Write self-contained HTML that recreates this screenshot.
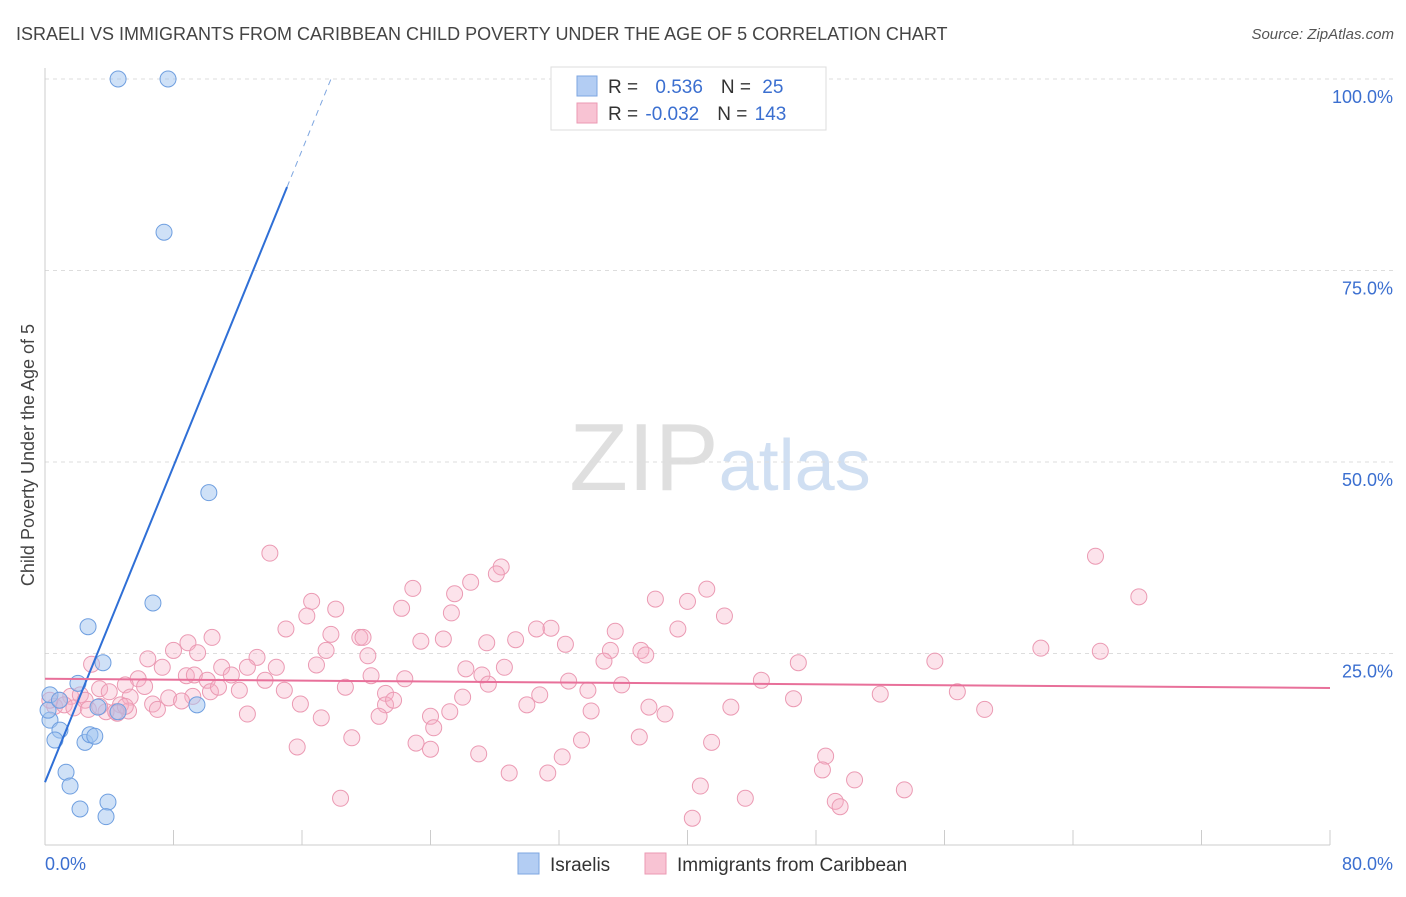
<!DOCTYPE html>
<html><head><meta charset="utf-8"><style>
body{margin:0;background:#fff;font-family:"Liberation Sans",sans-serif;}
svg text{font-family:"Liberation Sans",sans-serif;}
</style></head><body>
<svg id="chart" width="1406" height="892" xmlns="http://www.w3.org/2000/svg">
<text x="16" y="40" font-size="18" fill="#444">ISRAELI VS IMMIGRANTS FROM CARIBBEAN CHILD POVERTY UNDER THE AGE OF 5 CORRELATION CHART</text>
<text x="1394" y="39" font-size="15" fill="#555" text-anchor="end" font-style="italic">Source: ZipAtlas.com</text>
<text x="720" y="490" font-size="96" text-anchor="middle" font-family="Liberation Serif" fill="#d8d8d8" opacity="0.8">ZIP<tspan fill="#c5d8f0" font-family="Liberation Sans" font-size="72">atlas</tspan></text>
<text transform="translate(34,455) rotate(-90)" font-size="18" fill="#444" text-anchor="middle">Child Poverty Under the Age of 5</text>
<g id="grid"></g><g id="ticks"></g><g id="pts"></g><g id="lines"></g>
<g>
<rect x="551" y="67" width="275" height="63" fill="#fff" stroke="#ddd"/>
<rect x="577" y="76" width="20" height="20" fill="#b3cdf3" stroke="#7ea6e0"/>
<rect x="577" y="103" width="20" height="20" fill="#f8c3d3" stroke="#eb9ab3"/>
<text x="608" y="93" font-size="19" fill="#333">R = <tspan fill="#3b6fd0" dx="12">0.536</tspan><tspan fill="#333" dx="18">N = </tspan><tspan fill="#3b6fd0" dx="6">25</tspan></text>
<text x="608" y="120" font-size="19" fill="#333">R = <tspan fill="#3b6fd0" dx="2">-0.032</tspan><tspan fill="#333" dx="18">N = </tspan><tspan fill="#3b6fd0" dx="2">143</tspan></text>
</g>
<g>
<rect x="518" y="853" width="21" height="21" fill="#b3cdf3" stroke="#7ea6e0"/>
<text x="550" y="871" font-size="19" fill="#333">Israelis</text>
<rect x="645" y="853" width="21" height="21" fill="#f8c3d3" stroke="#eb9ab3"/>
<text x="677" y="871" font-size="19" fill="#333">Immigrants from Caribbean</text>
</g>
</svg>
<script>
const xTicks=[0,10,20,30,40,50,60,70,80];
const yTicks=[25,50,75,100];
const blueX=[4.55,7.66,7.41,10.2,6.72,2.68,3.61,2.05,0.31,3.3,4.55,9.46,0.31,0.93,0.62,2.49,2.8,3.1,1.31,1.56,3.92,2.18,3.8,0.19,0.9];
const blueY=[100,100,80.0,46.0,31.6,28.5,23.8,21.1,19.6,18.0,17.4,18.3,16.3,15.0,13.7,13.4,14.4,14.2,9.5,7.7,5.6,4.7,3.7,17.6,18.9];
const pinkX=[14.0,65.4,28.4,28.1,41.2,22.9,26.5,68.1,38.0,16.6,25.5,40.0,22.2,18.1,25.3,16.3,42.3,15.0,35.5,39.4,30.6,31.5,10.4,17.8,19.6,19.8,23.4,24.8,27.5,29.3,32.4,8.9,62.0,65.7,17.5,37.1,35.2,37.4,8.0,6.4,9.5,13.2,20.1,26.2,16.9,28.6,34.8,55.4,46.9,2.9,7.3,11.0,12.6,14.4,11.6,8.8,5.8,9.3,10.1,20.3,22.4,13.7,27.2,27.6,32.6,35.9,44.6,5.0,6.2,10.3,12.1,14.9,18.7,10.8,3.4,21.2,4.0,5.3,7.7,9.2,26.0,33.8,30.8,52.0,56.8,1.6,2.2,15.9,21.2,21.7,4.7,6.7,7.0,5.2,4.5,8.5,46.6,30.0,34.0,58.5,37.6,42.7,12.6,17.2,20.8,24.0,25.2,38.6,24.2,33.4,37.0,41.5,15.7,23.1,24.0,19.1,27.0,32.2,48.6,48.4,28.9,31.3,50.4,40.8,18.4,43.6,49.2,49.5,53.5,40.3,0.9,0.6,1.2,0.3,2.5,1.8,2.7,3.8,4.4,3.4,5.0];
const pinkY=[38.1,37.7,36.3,35.4,33.4,33.5,34.3,32.4,32.1,31.8,32.8,31.8,30.9,30.8,30.3,29.9,29.9,28.2,27.9,28.2,28.2,28.3,27.1,27.5,27.1,27.1,26.6,26.9,26.4,26.8,26.2,26.4,25.7,25.3,25.4,25.4,25.4,24.8,25.4,24.3,25.1,24.5,24.7,23.0,23.5,23.2,24.0,24.0,23.8,23.6,23.2,23.2,23.2,23.2,22.2,22.1,21.7,22.2,21.5,22.1,21.7,21.5,22.2,21.0,21.4,20.9,21.5,20.9,20.7,20.0,20.2,20.2,20.6,20.6,20.4,19.8,20.0,19.3,19.2,19.4,19.3,20.2,19.6,19.7,20.0,19.4,19.6,18.4,18.3,18.9,18.3,18.4,17.7,17.5,17.2,18.8,19.1,18.3,17.5,17.7,18.0,18.0,17.1,16.6,16.8,16.8,17.4,17.1,15.3,13.7,14.1,13.4,12.8,13.3,12.5,14.0,11.9,11.5,11.6,9.8,9.4,9.4,8.5,7.7,6.1,6.1,5.7,5.0,7.2,3.5,18.9,18.1,18.3,18.9,18.9,17.9,17.7,17.4,17.4,18.1,18.1];
const blueFit=[8.2,85.9];   // y at x=0 and x=15.07 (solid end)
const pinkFit=[21.7,20.5];  // y at x=0 and x=80
const NS='http://www.w3.org/2000/svg';
const X=v=>45+v*(1285/80);
const Y=v=>845-v*7.66;
function mk(tag,attrs,parent){const e=document.createElementNS(NS,tag);for(const k in attrs)e.setAttribute(k,attrs[k]);document.getElementById(parent).appendChild(e);return e;}
const ax=mk('line',{x1:45,y1:845,x2:1330,y2:845,stroke:'#ccc'},'ticks');


const ay=mk('line',{x1:45,y1:68,x2:45,y2:845,stroke:'#ccc'},'ticks');


yTicks.forEach(t=>{
 const g=mk('line',{x1:45,y1:Y(t),x2:1394,y2:Y(t),stroke:'#ddd','stroke-dasharray':'4,4'},'grid');
 
 
 const l=mk('text',{x:1393,y:Y(t)+24,'font-size':18,fill:'#3b6fd0','text-anchor':'end'},'grid');
 l.textContent=t.toFixed(1)+'%';
 
 
});
for(let i=0;i<=10;i++){const v=i*8;
 const t=mk('line',{x1:X(v),y1:830,x2:X(v),y2:845,stroke:'#ccc'},'ticks');
 
 }
[[0,'start',45],[80,'end',1393]].forEach(([v,a,px])=>{
 const l=mk('text',{x:px,y:870,'font-size':18,fill:'#3b6fd0','text-anchor':a},'ticks');
 l.textContent=v.toFixed(1)+'%';
 
 });
pinkX.forEach((v,i)=>{
 const c=mk('circle',{cx:X(v),cy:Y(pinkY[i]),r:8,fill:'rgba(246,176,198,0.35)',stroke:'#eb9ab3','stroke-width':1},'pts');
 
 });
blueX.forEach((v,i)=>{
 const c=mk('circle',{cx:X(v),cy:Y(blueY[i]),r:8,fill:'rgba(160,195,240,0.5)',stroke:'#6f9fe0','stroke-width':1},'pts');
 
 });
const slope=(blueFit[1]-blueFit[0])/15.07;
const bl=mk('line',{x1:X(0),y1:Y(blueFit[0]),x2:X(15.07),y2:Y(blueFit[1]),stroke:'#2f6fd6','stroke-width':2},'lines');


const xe=17.8;
const bd=mk('line',{x1:X(15.07),y1:Y(blueFit[1]),x2:X(xe),y2:Y(blueFit[0]+slope*xe),stroke:'#7ea6e0','stroke-width':1,'stroke-dasharray':'6,5'},'lines');


const pl=mk('line',{x1:X(0),y1:Y(pinkFit[0]),x2:X(80),y2:Y(pinkFit[1]),stroke:'#e8709a','stroke-width':2},'lines');


</script>
</body></html>
